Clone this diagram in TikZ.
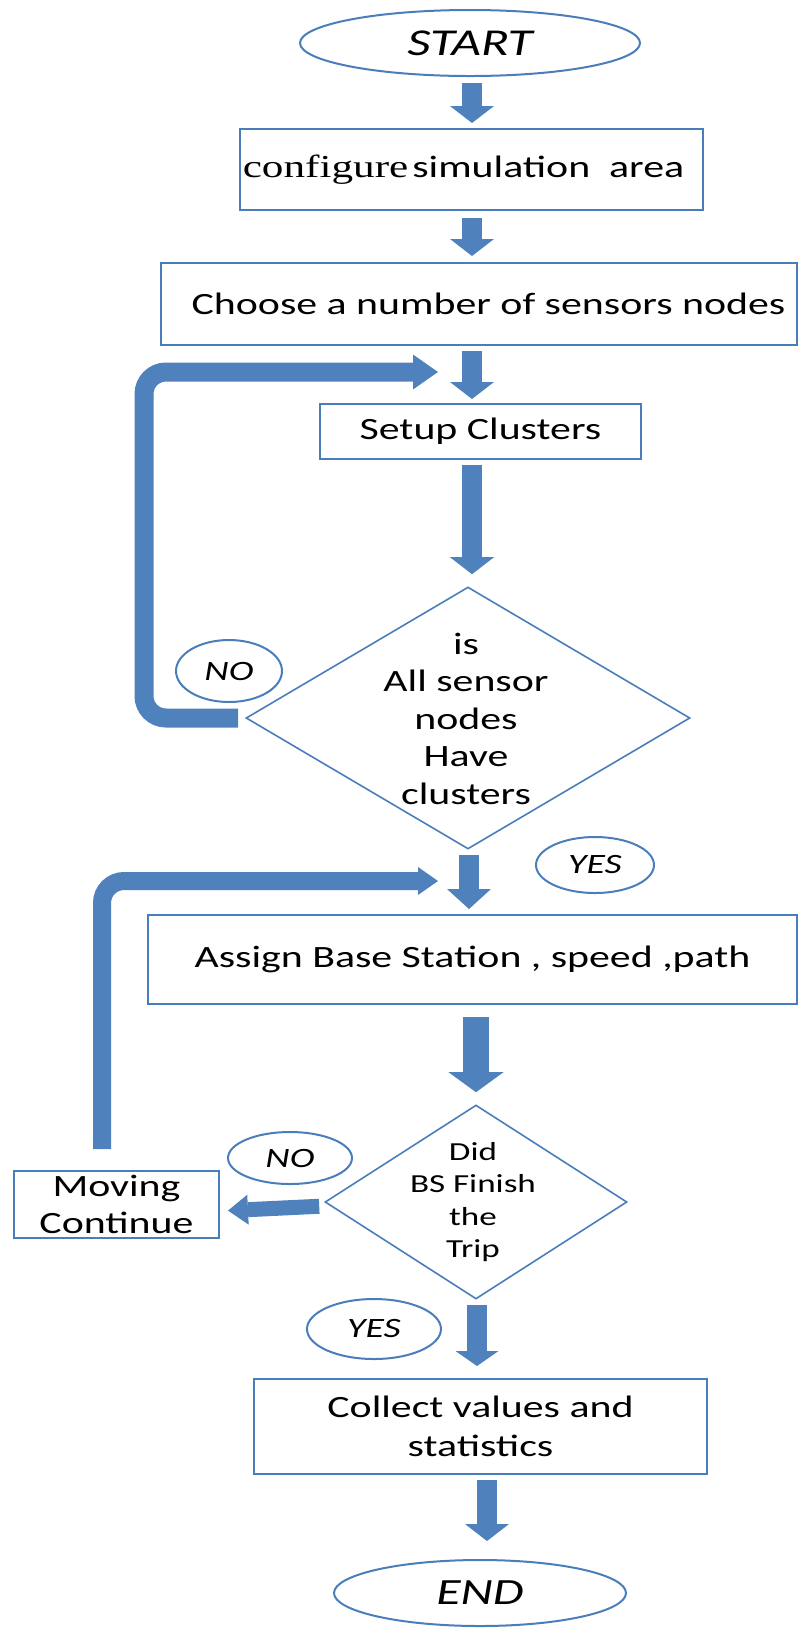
\documentclass[tikz,border=0pt]{standalone}
\usepackage{fontspec}
\setmainfont{Carlito}[FakeStretch=1.35]
\newfontfamily\timeswide{Liberation Serif}[FakeStretch=1.35]
\usetikzlibrary{arrows.meta,shapes.geometric}
\definecolor{flowblue}{HTML}{4F81BD}
\definecolor{edgeblue}{HTML}{4A7EBB}

\begin{document}
\begin{tikzpicture}[x=0.5pt,y=-0.5pt,
  box/.style={draw=edgeblue, line width=1pt, fill=white, inner sep=0pt,
    align=center, font=\fontsize{15.5}{19.5}\selectfont},
  oval/.style={draw=edgeblue, line width=1pt, fill=white, ellipse, inner sep=0pt,
    font=\fontsize{14}{16}\selectfont\itshape},
  decision/.style={draw=edgeblue, line width=0.8pt, fill=white, diamond, inner sep=0pt},
  flow/.style={draw=flowblue, line width=10pt,
    -{Triangle[length=8.5pt,width=22pt,line width=0pt]}},
  loopflow/.style={draw=flowblue, rounded corners=11pt},
]
% canvas
\fill[white] (0,0) rectangle (800,1630);

% terminals and process boxes
\node[oval, minimum width=170pt, minimum height=33pt,
  font=\fontsize{19}{22}\selectfont\itshape] (start) at (470,43) {START};
\node[box, minimum width=231.5pt, minimum height=40.5pt] (config) at (471.5,169.5)
  {{\timeswide\fontsize{16}{18}\selectfont configure}\hspace{2pt}simulation~~area\hspace*{8pt}};
\node[box, minimum width=318pt, minimum height=41pt] (choose) at (479,304)
  {\hspace*{9.5pt}Choose a number of sensors nodes};
\node[box, minimum width=160.5pt, minimum height=27.5pt] (setup) at (480.5,431.5)
  {Setup Clusters};

% first decision
\node[decision, minimum width=222pt, minimum height=131pt] (d1) at (468,718) {};
\node[font=\fontsize{15.5}{18.75}\selectfont, align=center] (d1text) at (466,718.5)
  {is\\All sensor\\nodes\\Have\\clusters};
\node[oval, minimum width=53pt, minimum height=31pt] (no1) at (229,671) {NO};
\node[oval, minimum width=59pt, minimum height=28pt] (yes1) at (595,865) {YES};

\node[box, minimum width=324.5pt, minimum height=44.5pt] (assign) at (472.5,959.5)
  {Assign Base Station , speed ,path};

% second decision
\node[decision, minimum width=151pt, minimum height=97pt] (d2) at (476,1202) {};
\node[font=\fontsize{13}{16.3}\selectfont, align=center] (d2text) at (473,1202)
  {Did\\BS Finish\\the\\Trip};
\node[oval, minimum width=62pt, minimum height=26pt] (no2) at (290,1158) {NO};
\node[box, minimum width=102.5pt, minimum height=33.5pt,
  font=\fontsize{15.5}{18.5}\selectfont] (moving) at (116.5,1204.5) {Moving\\Continue};
\node[oval, minimum width=67pt, minimum height=30pt] (yes2) at (374,1329) {YES};

\node[box, minimum width=226.5pt, minimum height=47.5pt] (collect) at (480.5,1426.5)
  {Collect values and\\statistics};
\node[oval, minimum width=146pt, minimum height=33pt,
  font=\fontsize{18.5}{22}\selectfont\itshape] (end) at (480,1593) {END};

% main flow
\draw[flow, shorten <=3pt, shorten >=2.5pt] ([xshift=1pt]start.south) -- ([xshift=0.25pt]config.north);
\draw[flow, shorten <=3.5pt, shorten >=3pt] ([xshift=0.25pt]config.south) -- ([xshift=-3.5pt]choose.north);
\draw[flow, shorten <=2.5pt, shorten >=2pt] ([xshift=-3.5pt]choose.south) -- ([xshift=-4.25pt]setup.north);
\draw[flow, shorten <=2.5pt, shorten >=6pt] ([xshift=-4.25pt]setup.south) -- ([xshift=2pt]d1.north);
\draw[flow, shorten <=2.5pt, shorten >=2.5pt,
  -{Triangle[length=10pt,width=22pt,line width=0pt]}] ([xshift=0.5pt]d1.south) -- ([xshift=-1.75pt]assign.north);
\draw[flow, line width=13pt, shorten <=6pt, shorten >=6pt,
  -{Triangle[length=10pt,width=27.5pt,line width=0pt]}] ([xshift=1.75pt]assign.south) -- (d2.north);
\draw[flow, shorten <=2.5pt, shorten >=6pt,
  -{Triangle[length=7.5pt,width=21.5pt,line width=0pt]}] ([xshift=0.5pt]d2.south) -- ([xshift=-1.75pt]collect.north);
\draw[flow, shorten <=2.5pt, shorten >=9pt] ([xshift=3.25pt]collect.south) -- ([xshift=3.5pt]end.north);
\draw[flow, line width=7.5pt, shorten <=2.5pt, shorten >=4pt,
  -{Triangle[length=10pt,width=15pt,line width=0pt]}] ([yshift=-2pt]d2.west) -- ([yshift=-3.25pt]moving.east);

% loops back
\coordinate (loop1corner) at (144,718);
\coordinate (loop1end) at (438,372);
\draw[flow, loopflow, line width=9.5pt,
  -{Triangle[length=12.5pt,width=17.5pt,line width=0pt]}]
  ([xshift=-3.5pt]d1.west) -- (loop1corner) |- (loop1end);

\coordinate (loop2end) at (438,881);
\draw[flow, loopflow, line width=9pt, shorten <=10.5pt,
  -{Triangle[length=10pt,width=14pt,line width=0pt]}]
  ([xshift=-7.25pt]moving.north) |- (loop2end);
\end{tikzpicture}
\end{document}
